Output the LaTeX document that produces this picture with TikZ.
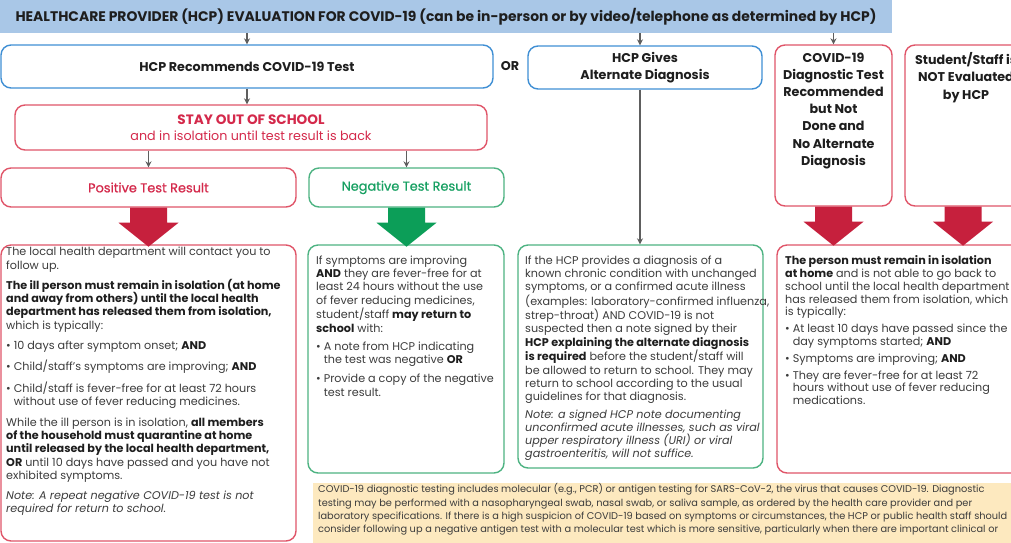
\documentclass[tikz,border=0pt]{standalone}
\usepackage{fontspec}
\setmainfont{Poppins}
\newfontfamily\medfont{Poppins}[FakeBold=0.7]
\usetikzlibrary{calc,arrows.meta}
\definecolor{bannerblue}{HTML}{A9C7E7}
\definecolor{boxblue}{HTML}{3F8FD4}
\definecolor{boxred}{HTML}{E05569}
\definecolor{txtred}{HTML}{D4294B}
\definecolor{arrred}{HTML}{C6203D}
\definecolor{boxgreen}{HTML}{4DB382}
\definecolor{txtgreen}{HTML}{17A062}
\definecolor{arrgreen}{HTML}{0C9E58}
\definecolor{noteyellow}{HTML}{FDE9BF}
\definecolor{bodytxt}{HTML}{3C3C3C}
\definecolor{boldtxt}{HTML}{1E1E1E}
\definecolor{connector}{HTML}{5E5E5E}
\newcommand\hb[1]{\textbf{\color{boldtxt}#1}}
\newcommand\bul{\textbullet\ }
\newcommand\bulsp{\phantom{\textbullet\ }}
\begin{document}
\begin{tikzpicture}[x=1pt,y=-1pt,
  frame/.style={draw, line width=1.4, rounded corners=10, inner sep=0, fill=white},
  bluebox/.style={frame, draw=boxblue},
  redbox/.style={frame, draw=boxred},
  greenbox/.style={frame, draw=boxgreen},
  head/.style={font=\bfseries\fontsize{12.7}{17.2}\selectfont, text=boldtxt, align=center},
  body/.style={font=\fontsize{11.2}{13.3}\selectfont, text=bodytxt, align=left, anchor=north west, inner sep=0},
  conn/.style={draw=connector, line width=1.1, -{Stealth[length=6,width=6]}},
  blockarrow/.pic={\fill (-18.5,0) -- (18.5,0) -- (18.5,15) -- (30,15) -- (0,39) -- (-30,15) -- (-18.5,15) -- cycle;}
]
\clip (0,0) rectangle (1011,542);
\fill[white] (0,0) rectangle (1011,542);

% banner
\node[fill=bannerblue, minimum width=892, minimum height=33, inner sep=0,
      font=\bfseries\fontsize{13.9}{16}\selectfont, text=boldtxt] (banner) at (446,16.5)
  {HEALTHCARE PROVIDER (HCP) EVALUATION FOR COVID-19 (can be in-person or by video/telephone as determined by HCP)};

% first row boxes
\node[bluebox, minimum width=492, minimum height=43, head] (rec) at (247,66.5) {HCP Recommends COVID-19 Test};
\node[head, inner sep=0] (or) at (510,66) {OR};
\node[bluebox, minimum width=234, minimum height=43, head] (alt) at (645,67.5) {HCP Gives\\Alternate Diagnosis};
\node[redbox, minimum width=117, minimum height=161] (diag) at (833.5,125.5) {};
\node[head, inner sep=0, anchor=north] (diagT) at (833.5,52.5)
  {COVID-19\\Diagnostic Test\\Recommended\\but Not\\Done and\\No Alternate\\Diagnosis};
\node[redbox, minimum width=130, minimum height=161] (notev) at (970,125.5) {};
\node[head, inner sep=0, anchor=north] (notevT) at (966,52.5)
  {Student/Staff is\\NOT Evaluated\\by HCP};

% stay out
\node[redbox, minimum width=472, minimum height=45, text=txtred, align=center,
      font=\fontsize{12.7}{16}\selectfont] (stay) at (251,127.5)
  {{\bfseries\fontsize{13.6}{16}\selectfont STAY OUT OF SCHOOL}\\and in isolation until test result is back};

% results
\node[redbox, minimum width=295, minimum height=39, text=txtred, font=\medfont\fontsize{12.9}{15}\selectfont] (pos) at (148.5,187.5) {Positive Test Result};
\node[greenbox, minimum width=195, minimum height=39, text=txtgreen, font=\medfont\fontsize{12.9}{15}\selectfont] (neg) at (406.5,187.5) {Negative Test Result};

% detail boxes
\node[redbox, minimum width=295, minimum height=296] (posD) at (148.5,393) {};
\node[greenbox, minimum width=196, minimum height=228] (negD) at (406,359) {};
\node[greenbox, minimum width=245, minimum height=223] (altD) at (640.5,356.5) {};
\node[redbox, minimum width=258, minimum height=228] (rightD) at (906,359) {};
\node[fill=noteyellow, minimum width=720, minimum height=80, inner sep=0, anchor=north west] (note) at (313,483) {};

% connectors
\coordinate (altx) at (640,0);
\draw[conn] (banner.south -| rec.north) -- (rec.north);
\draw[conn] (banner.south -| altx) -- (alt.north -| altx);
\draw[conn] (banner.south -| diag.north) -- (diag.north);
\draw[conn] (rec.south) -- (rec.south |- stay.north);
\draw[conn] (stay.south -| pos.north) -- (pos.north);
\draw[conn] (stay.south -| neg.north) -- (neg.north);
\draw[conn] (alt.south -| altx) -- (altD.north -| altx);

% block arrows
\pic[color=arrred] at (pos.south) {blockarrow};
\pic[color=arrgreen] at (neg.south) {blockarrow};
\pic[color=arrred] at (diag.south) {blockarrow};
\coordinate (notevx) at (963,0);
\pic[color=arrred] at (notev.south -| notevx) {blockarrow};

% texts
\node[body] (posT) at (6,247) {%
The local health department will contact you to\\
follow up.\\[7pt]
\hb{The ill person must remain in isolation (at home}\\
\hb{and away from others) until the local health}\\
\hb{department has released them from isolation,}\\
which is typically:\\[7pt]
\bul 10 days after symptom onset; \hb{AND}\\[7pt]
\bul Child/staff's symptoms are improving; \hb{AND}\\[7pt]
\bul Child/staff is fever-free for at least 72 hours\\
\bulsp without use of fever reducing medicines.\\[7pt]
While the ill person is in isolation, \hb{all members}\\
\hb{of the household must quarantine at home}\\
\hb{until released by the local health department,}\\
\hb{OR} until 10 days have passed and you have not\\
exhibited symptoms.\\[7pt]
\textit{Note: A repeat negative COVID-19 test is not}\\
\textit{required for return to school.}};

\node[body] (negT) at (316,255.5) {%
If symptoms are improving\\
\hb{AND} they are fever-free for at\\
least 24 hours without the use\\
of fever reducing medicines,\\
student/staff \hb{may return to}\\
\hb{school} with:\\[5pt]
\bul A note from HCP indicating\\
\bulsp the test was negative \hb{OR}\\[6pt]
\bul Provide a copy of the negative\\
\bulsp test result.};

\node[body] (altT) at (525,255.5) {%
If the HCP provides a diagnosis of a\\
known chronic condition with unchanged\\
symptoms, or a confirmed acute illness\\
(examples: laboratory-confirmed influenza,\\
strep-throat) AND COVID-19 is not\\
suspected then a note signed by their\\
\hb{HCP explaining the alternate diagnosis}\\
\hb{is required} before the student/staff will\\
be allowed to return to school. They may\\
return to school according to the usual\\
guidelines for that diagnosis.\\[4pt]
\textit{Note: a signed HCP note documenting}\\
\textit{unconfirmed acute illnesses, such as viral}\\
\textit{upper respiratory illness (URI) or viral}\\
\textit{gastroenteritis, will not suffice.}};

\node[body, font=\fontsize{11.2}{12.8}\selectfont] (rightT) at (785,255.5) {%
\hb{The person must remain in isolation}\\
\hb{at home} and is not able to go back to\\
school until the local health department\\
has released them from isolation, which\\
is typically:\\[4pt]
\bul At least 10 days have passed since the\\
\bulsp day symptoms started; \hb{AND}\\[4pt]
\bul Symptoms are improving; \hb{AND}\\[4pt]
\bul They are fever-free for at least 72\\
\bulsp hours without use of fever reducing\\
\bulsp medications.};

\node[body, font=\fontsize{9.8}{13.3}\selectfont] (noteT) at (318,483.5) {%
COVID-19 diagnostic testing includes molecular (e.g., PCR) or antigen testing for SARS-CoV-2, the virus that causes COVID-19. Diagnostic\\
testing may be performed with a nasopharyngeal swab, nasal swab, or saliva sample, as ordered by the health care provider and per\\
laboratory specifications. If there is a high suspicion of COVID-19 based on symptoms or circumstances, the HCP or public health staff should\\
consider following up a negative antigen test with a molecular test which is more sensitive, particularly when there are important clinical or};
\end{tikzpicture}
\end{document}
